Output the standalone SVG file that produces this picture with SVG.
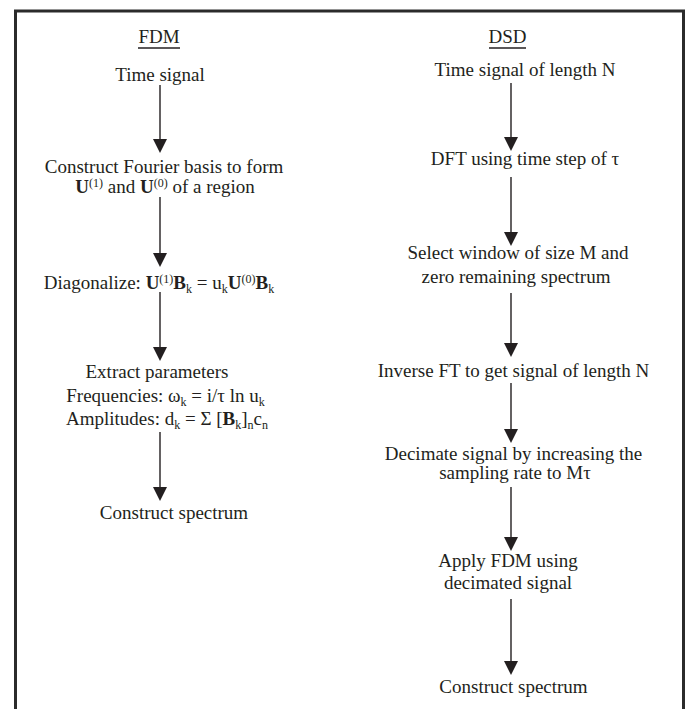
<svg xmlns="http://www.w3.org/2000/svg" width="689" height="709" viewBox="0 0 689 709">
<style>
text{font-family:"Liberation Serif","Times New Roman",serif;font-size:19px;fill:#231f20;text-anchor:middle}
.b{font-weight:bold}
.s{font-size:12px}
.c{stroke:#231f20;stroke-width:1.4;fill:none}
.u{stroke:#231f20;stroke-width:1.6}
</style>
<defs>
<marker id="ah" viewBox="0 0 14 14" markerWidth="14" markerHeight="14" markerUnits="userSpaceOnUse" refX="0" refY="7" orient="auto">
<path d="M0,0 L14,7 L0,14 z" fill="#231f20"/>
</marker>
</defs>
<rect width="689" height="709" fill="#fff"/>
<path d="M15.5,720 V11 H683.5 V720" fill="none" stroke="#2b2b2b" stroke-width="3"/>
<g id="fdm-title"><text x="159" y="43">FDM</text><line class="u" x1="138" y1="48" x2="180" y2="48"/></g>
<g id="dsd-title"><text x="507.5" y="43">DSD</text><line class="u" x1="489" y1="48" x2="526" y2="48"/></g>
<g id="fdm-1"><text x="160" y="81">Time signal</text></g>
<g id="fdm-2"><text x="164" y="173">Construct Fourier basis to form</text>
<text x="165" y="193"><tspan class="b">U</tspan><tspan class="s" dy="-6">(1)</tspan><tspan dy="6"> and </tspan><tspan class="b">U</tspan><tspan class="s" dy="-6">(0)</tspan><tspan dy="6"> of a region</tspan></text></g>
<g id="fdm-3"><text x="159" y="289">Diagonalize:  <tspan class="b">U</tspan><tspan class="s" dy="-6">(1)</tspan><tspan class="b" dy="6">B</tspan><tspan class="s" dy="4">k</tspan><tspan dy="-4"> = u</tspan><tspan class="s" dy="4">k</tspan><tspan class="b" dy="-4">U</tspan><tspan class="s" dy="-6">(0)</tspan><tspan class="b" dy="6">B</tspan><tspan class="s" dy="4">k</tspan></text></g>
<g id="fdm-4"><text x="157" y="378">Extract parameters</text>
<text x="165.5" y="402">Frequencies: ω<tspan class="s" dy="4">k</tspan><tspan dy="-4"> = i/τ ln u</tspan><tspan class="s" dy="4">k</tspan></text>
<text x="167" y="425">Amplitudes:  d<tspan class="s" dy="4">k</tspan><tspan dy="-4"> = Σ [</tspan><tspan class="b">B</tspan><tspan class="s" dy="4">k</tspan><tspan dy="-4">]</tspan><tspan class="s" dy="4">n</tspan><tspan dy="-4">c</tspan><tspan class="s" dy="4">n</tspan></text></g>
<g id="fdm-5"><text x="174" y="519">Construct spectrum</text></g>
<g id="dsd-1"><text x="525" y="76">Time signal of length N</text></g>
<g id="dsd-2"><text x="525" y="165">DFT using time step of  τ</text></g>
<g id="dsd-3"><text x="518" y="259">Select window of size M and</text><text x="516" y="283">zero remaining spectrum</text></g>
<g id="dsd-4"><text x="513.5" y="377">Inverse FT to get signal of length N</text></g>
<g id="dsd-5"><text x="513.5" y="460">Decimate signal by increasing the</text><text x="515" y="479">sampling rate to Mτ</text></g>
<g id="dsd-6"><text x="508" y="567">Apply FDM using</text><text x="508" y="589">decimated signal</text></g>
<g id="dsd-7"><text x="513.5" y="693">Construct spectrum</text></g>
<g id="connectors">
<path class="c" marker-end="url(#ah)" d="M160,85 V139"/>
<path class="c" marker-end="url(#ah)" d="M160,197 V253"/>
<path class="c" marker-end="url(#ah)" d="M160,292 V347"/>
<path class="c" marker-end="url(#ah)" d="M160,432 V487"/>
<path class="c" marker-end="url(#ah)" d="M511,83 V137"/>
<path class="c" marker-end="url(#ah)" d="M511,177 V232"/>
<path class="c" marker-end="url(#ah)" d="M511,293 V343"/>
<path class="c" marker-end="url(#ah)" d="M511,383 V429"/>
<path class="c" marker-end="url(#ah)" d="M511,487 V537"/>
<path class="c" marker-end="url(#ah)" d="M511,599 V661"/>
</g>
</svg>
